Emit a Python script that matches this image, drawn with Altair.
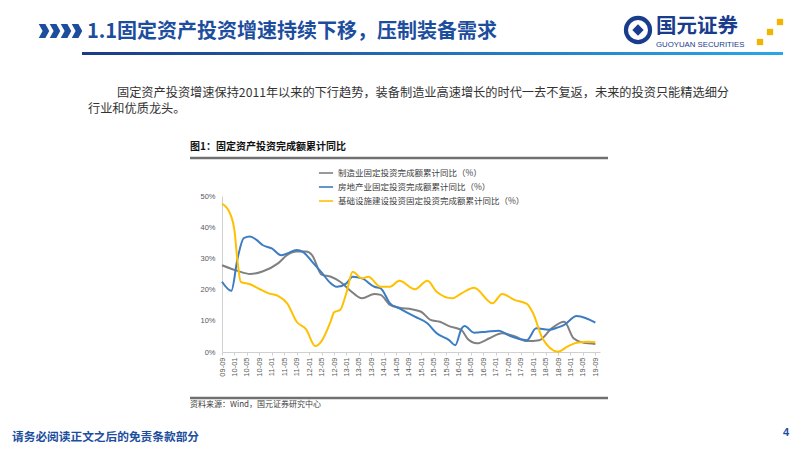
import altair as alt
import pandas as pd

# ---------------- text content ----------------
HEADER_TITLE = "1.1固定资产投资增速持续下移，压制装备需求"
LOGO_CN = "国元证券"
LOGO_EN = "GUOYUAN SECURITIES"
PARA_LINE1 = "固定资产投资增速保持2011年以来的下行趋势，装备制造业高速增长的时代一去不复返，未来的投资只能精选细分"
PARA_LINE2 = "行业和优质龙头。"
FIG_TITLE = "图1：固定资产投资完成额累计同比"
SOURCE = "资料来源：Wind，国元证券研究中心"
FOOTER = "请务必阅读正文之后的免责条款部分"
PAGE_NO = "4"

# ---------------- chart data ----------------
series_names = [
    "制造业固定投资完成额累计同比（%）",
    "房地产业固定投资完成额累计同比（%）",
    "基础设施建设投资固定投资完成额累计同比（%）",
]
series_colors = ["#808080", "#3b7cc3", "#ffc000"]

x_tick_labels = [
    "09-09", "10-01", "10-05", "10-09", "11-01", "11-05", "11-09", "12-01",
    "12-05", "12-09", "13-01", "13-05", "13-09", "14-01", "14-05", "14-09",
    "15-01", "15-05", "15-09", "16-01", "16-05", "16-09", "17-01", "17-05",
    "17-09", "18-01", "18-05", "18-09", "19-01", "19-05", "19-09",
]
y_tick_values = [0, 10, 20, 30, 40, 50]

mfg_months = ["2009-09", "2010-02", "2010-06", "2010-10", "2011-03", "2011-06",
              "2011-09", "2011-12", "2012-02", "2012-05", "2012-08", "2012-11",
              "2013-02", "2013-06", "2013-10", "2013-12", "2014-03", "2014-06",
              "2014-10", "2015-01", "2015-04", "2015-07", "2015-10", "2016-02",
              "2016-04", "2016-07", "2016-11", "2017-03", "2017-07", "2017-11",
              "2018-03", "2018-07", "2018-11", "2019-02", "2019-05", "2019-09"]
mfg_values = [27.8, 26.0, 25.0, 25.8, 28.4, 31.1,
              32.2, 32.2, 31.0, 24.8, 24.1, 22.5,
              19.9, 17.2, 18.6, 18.3, 15.1, 14.2,
              13.7, 12.9, 10.3, 9.7, 8.3, 7.0,
              4.2, 2.8, 4.4, 6.0, 5.1, 3.5,
              3.8, 7.6, 9.7, 4.4, 3.0, 2.6]

re_months = ["2009-09", "2009-12", "2010-02", "2010-04", "2010-06", "2010-08",
             "2010-10", "2011-01", "2011-04", "2011-06", "2011-09", "2011-11",
             "2012-02", "2012-05", "2012-08", "2012-10", "2013-01", "2013-03",
             "2013-06", "2013-10", "2013-12", "2014-03", "2014-06", "2014-11",
             "2015-03", "2015-06", "2015-10", "2015-12", "2016-02", "2016-03",
             "2016-06", "2016-10", "2017-02", "2017-05", "2017-11", "2018-02",
             "2018-06", "2018-09", "2018-11", "2019-03", "2019-06", "2019-09"]
re_values = [22.5, 19.6, 30.0, 36.5, 37.0, 36.0,
             34.3, 33.2, 31.0, 31.6, 32.7, 32.1,
             28.9, 25.5, 22.0, 20.9, 22.0, 24.1,
             23.6, 20.9, 20.4, 15.6, 14.0, 11.3,
             9.2, 6.0, 3.8, 2.2, 7.5, 8.3,
             6.2, 6.5, 6.8, 5.4, 3.8, 7.6,
             7.1, 7.9, 8.7, 11.5, 10.8, 9.4]

infra_months = ["2009-09", "2009-12", "2010-01", "2010-02", "2010-03", "2010-06",
                "2010-09", "2010-12", "2011-03", "2011-06", "2011-09", "2011-12",
                "2012-03", "2012-05", "2012-08", "2012-09", "2012-11", "2013-01",
                "2013-03", "2013-06", "2013-08", "2013-12", "2014-03", "2014-06",
                "2014-11", "2015-03", "2015-06", "2015-11", "2016-02", "2016-06",
                "2016-12", "2017-03", "2017-07", "2017-11", "2018-01", "2018-04",
                "2018-09", "2018-12", "2019-03", "2019-07", "2019-09"]
infra_values = [47.6, 43.4, 39.0, 29.0, 22.5, 21.7,
                20.2, 18.8, 18.0, 15.5, 9.7, 7.3,
                1.9, 3.5, 10.0, 12.7, 13.5, 19.0,
                25.7, 23.6, 24.1, 20.9, 20.9, 22.8,
                20.1, 22.8, 19.3, 17.2, 18.8, 20.6,
                15.6, 18.6, 16.7, 15.4, 12.4, 4.4,
                0.1, 1.7, 3.0, 3.3, 3.1]


def month_index(s):
    y, m = s.split("-")
    return (int(y) - 2009) * 12 + (int(m) - 9)


rows = []
for name, months, vals in zip(series_names,
                              [mfg_months, re_months, infra_months],
                              [mfg_values, re_values, infra_values]):
    for mo, v in zip(months, vals):
        rows.append({"series": name, "m": month_index(mo), "v": v})
df = pd.DataFrame(rows)

# ---------------- layout ----------------
OX, OY = 222, 196          # page position of plot origin
PW, PH = 378, 156
CJK = "Noto Sans CJK SC"
LAT = "Liberation Sans"
BLUE = "#1d4e9e"
NAVY = "#1a3c8c"


def px(x):
    return x - OX


def py(y):
    return y - OY


def one(txt=""):
    return pd.DataFrame({"t": [txt]})


def text_layer(txt, x, y, size, color, weight="normal", font=CJK, align="left"):
    return alt.Chart(one(txt)).mark_text(
        align=align, baseline="middle", fontSize=size, font=font,
        fontWeight=weight, color=color
    ).encode(x=alt.value(px(x)), y=alt.value(py(y)), text="t:N")


def hrule(x1, x2, y, color, width):
    return alt.Chart(one()).mark_rule(color=color, strokeWidth=width).encode(
        x=alt.value(px(x1)), x2=alt.value(px(x2)), y=alt.value(py(y)))


label_js = "[" + ",".join("'%s'" % s for s in x_tick_labels) + "]"

lines = alt.Chart(df).mark_line(interpolate="monotone", strokeWidth=2).encode(
    x=alt.X("m:Q",
            scale=alt.Scale(domain=[0, 121.5], nice=False, zero=False),
            axis=alt.Axis(values=list(range(0, 121, 4)),
                          labelExpr=label_js + "[round(datum.value/4)]",
                          labelAngle=270, labelFontSize=7.5, labelFont=LAT,
                          labelColor="#595959", tickSize=3, tickColor="#d0d0d0",
                          domainColor="#d0d0d0", grid=False, title=None,
                          labelPadding=2, labelOverlap=False, labelFlush=False)),
    y=alt.Y("v:Q",
            scale=alt.Scale(domain=[0, 50], nice=False),
            axis=alt.Axis(values=y_tick_values, labelExpr="datum.value + '%'",
                          labelFontSize=7.5, labelFont=LAT, labelColor="#595959",
                          ticks=False, domainColor="#d0d0d0", grid=False,
                          title=None, labelPadding=7)),
    color=alt.Color("series:N",
                    scale=alt.Scale(domain=series_names, range=series_colors),
                    sort=series_names,
                    legend=alt.Legend(title=None)),
)

layers = [lines]

# header chevrons
CHEVRON = "M-0.75,-1 L0.2,-1 L0.75,0 L0.2,1 L-0.75,1 L-0.2,0 Z"
for cx in [44, 55, 66, 77]:
    layers.append(alt.Chart(one()).mark_point(
        shape=CHEVRON, filled=True, size=196, color=BLUE, opacity=1, strokeWidth=0
    ).encode(x=alt.value(px(cx)), y=alt.value(py(31))))

layers.append(text_layer(HEADER_TITLE, 87, 32, 20, BLUE, weight="bold"))

# gradient header line
layers.append(alt.Chart(one()).mark_rect(
    color=alt.LinearGradient(
        gradient="linear",
        stops=[alt.GradientStop(color="#1b3a88", offset=0),
               alt.GradientStop(color="#2aa7e6", offset=1)],
        x1=0, x2=1, y1=0, y2=0)
).encode(x=alt.value(px(82)), x2=alt.value(px(783)),
         y=alt.value(py(52)), y2=alt.value(py(55))))

# logo
layers.append(alt.Chart(one()).mark_point(
    shape="circle", filled=True, size=800, color=NAVY, opacity=1
).encode(x=alt.value(px(638)), y=alt.value(py(30))))
layers.append(alt.Chart(one()).mark_point(
    shape="circle", filled=True, size=400, color="white", opacity=1
).encode(x=alt.value(px(638)), y=alt.value(py(30))))
layers.append(alt.Chart(one()).mark_point(
    shape="diamond", filled=True, size=130, color=NAVY, opacity=1
).encode(x=alt.value(px(638)), y=alt.value(py(30))))
layers.append(text_layer(LOGO_CN, 656, 27, 20.5, NAVY, weight="bold"))
layers.append(text_layer(LOGO_EN, 656, 45, 7.8, NAVY, font=LAT))
for sx, sy in [(780, 22), (770, 32), (760, 42)]:
    layers.append(alt.Chart(one()).mark_square(
        filled=True, size=40, color="#f2b400", opacity=1
    ).encode(x=alt.value(px(sx)), y=alt.value(py(sy))))

# paragraph
layers.append(text_layer(PARA_LINE1, 117, 93, 12.2, "#333333"))
layers.append(text_layer(PARA_LINE2, 88, 109, 12.2, "#333333"))

# figure frame
layers.append(text_layer(FIG_TITLE, 190, 147, 10, "#111111", weight="bold"))
layers.append(hrule(190, 608, 158, "#707070", 2.5))
layers.append(hrule(190, 608, 398, "#707070", 2.5))
layers.append(text_layer(SOURCE, 190, 405, 8, "#404040"))

# footer
layers.append(text_layer(FOOTER, 12, 437, 11.7, BLUE, weight="bold"))
layers.append(text_layer(PAGE_NO, 783, 433, 11, BLUE, weight="bold", font=LAT))

chart = alt.layer(*layers).properties(
    width=PW, height=PH,
    autosize=alt.AutoSizeParams(type="none"),
    padding={"left": OX - 8, "top": OY - 8, "right": 786 - (OX - 8) - PW,
             "bottom": 435 - (OY - 8) - PH},
).configure_view(stroke=None).configure_legend(
    orient="none", legendX=96, legendY=-31,
    symbolType="stroke", symbolStrokeWidth=1.6, symbolSize=200,
    labelFont=CJK, labelFontSize=8.5, labelColor="#404040",
    rowPadding=1, labelLimit=400, padding=0,
)

chart.save("out.html", embed_options={"renderer": "svg", "actions": False})
